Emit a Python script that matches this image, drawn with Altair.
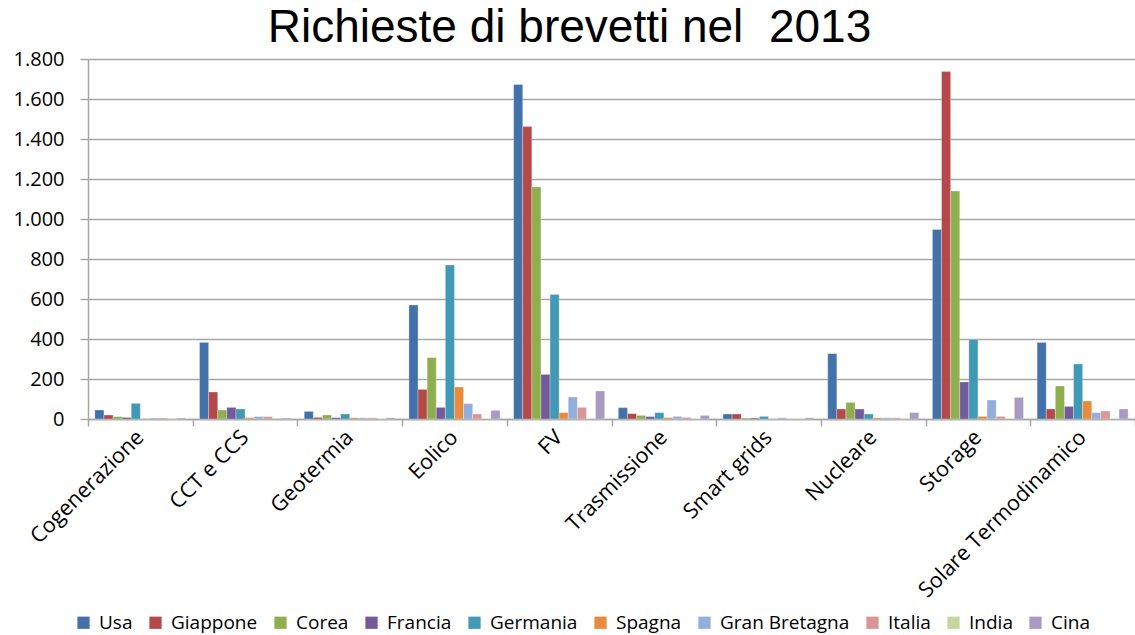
import altair as alt
import pandas as pd

categories = ["Cogenerazione", "CCT e CCS", "Geotermia", "Eolico", "FV",
              "Trasmissione", "Smart grids", "Nucleare", "Storage",
              "Solare Termodinamico"]
countries = ["Usa", "Giappone", "Corea", "Francia", "Germania", "Spagna",
             "Gran Bretagna", "Italia", "India", "Cina"]
colors = ["#4372AB", "#B5494A", "#8FAF4E", "#735A9A", "#4299B5", "#E98A3C",
          "#93AEDA", "#D99694", "#C3D69B", "#A99AC4"]

# values per country, in the order of `categories`
usa      = [45, 383, 38, 570, 1673, 57, 25, 327, 948, 383]
giappone = [20, 135, 8, 148, 1462, 27, 25, 50, 1737, 50]
corea    = [12, 45, 20, 307, 1160, 18, 5, 83, 1140, 165]
francia  = [8, 58, 7, 58, 223, 12, 5, 50, 185, 63]
germania = [78, 50, 25, 770, 623, 32, 13, 25, 398, 275]
spagna   = [2, 7, 6, 160, 32, 7, 1, 6, 13, 90]
gran_bretagna = [5, 12, 6, 77, 110, 13, 6, 6, 95, 32]
italia   = [5, 12, 6, 25, 58, 8, 1, 6, 13, 40]
india    = [1, 5, 1, 3, 3, 2, 1, 1, 3, 3]
cina     = [5, 5, 6, 43, 140, 18, 6, 32, 108, 50]

series = [usa, giappone, corea, francia, germania, spagna, gran_bretagna,
          italia, india, cina]

rows = []
for country, vals in zip(countries, series):
    for cat, v in zip(categories, vals):
        rows.append({"Categoria": cat, "Paese": country, "Valore": v})
df = pd.DataFrame(rows)

FONT = "Open Sans"

bars = alt.Chart(df).mark_bar(stroke="white", strokeWidth=0.4, strokeOpacity=0.7).encode(
    x=alt.X("Categoria:N", sort=categories, title=None,
            scale=alt.Scale(paddingInner=0, paddingOuter=0),
            axis=alt.Axis(labelAngle=-45, labelAlign="right", labelBaseline="middle",
                          labelFont=FONT, labelFontSize=21.5, labelColor="#000000",
                          labelLimit=400,
                          tickBand="extent", tickSize=7, tickColor="#A6A6A6",
                          tickWidth=1.5, domainColor="#A6A6A6", domainWidth=1.5,
                          labelPadding=8, grid=False)),
    xOffset=alt.XOffset("Paese:N", sort=countries,
                        scale=alt.Scale(paddingInner=0, paddingOuter=0.75)),
    y=alt.Y("Valore:Q", title=None,
            scale=alt.Scale(domain=[0, 1800], nice=False),
            axis=alt.Axis(values=[0, 200, 400, 600, 800, 1000, 1200, 1400, 1600, 1800],
                          labelExpr="replace(format(datum.value, ','), ',', '.')",
                          labelFont=FONT, labelFontSize=20, labelColor="#000000",
                          tickSize=8, tickColor="#A6A6A6", tickWidth=1.5,
                          domainColor="#A6A6A6", domainWidth=1.5,
                          gridColor="#A6A6A6", gridWidth=1.5, labelPadding=16)),
    color=alt.Color("Paese:N", sort=countries,
                    scale=alt.Scale(domain=countries, range=colors),
                    legend=alt.Legend(orient="none", legendX=-14, legendY=554,
                                      direction="horizontal", columns=10,
                                      title=None, symbolType="square",
                                      symbolSize=150, symbolStrokeWidth=0,
                                      labelFont=FONT, labelFontSize=19,
                                      labelColor="#000000", columnPadding=13,
                                      labelOffset=6, padding=0)),
)

chart = bars.properties(
    width=1047,
    height=360,
    padding={"left": 88, "top": 59, "right": 0, "bottom": 216},
    autosize=alt.AutoSizeParams(type="none"),
    title=alt.TitleParams("Richieste di brevetti nel\u00a0 2013", font="Liberation Sans",
                          fontSize=46, fontWeight="normal", color="#000000",
                          anchor="middle", dx=-42, offset=-3),
).configure_view(stroke=None).configure(background="white")

chart.save("out.html", embed_options={"renderer": "svg", "actions": False})
